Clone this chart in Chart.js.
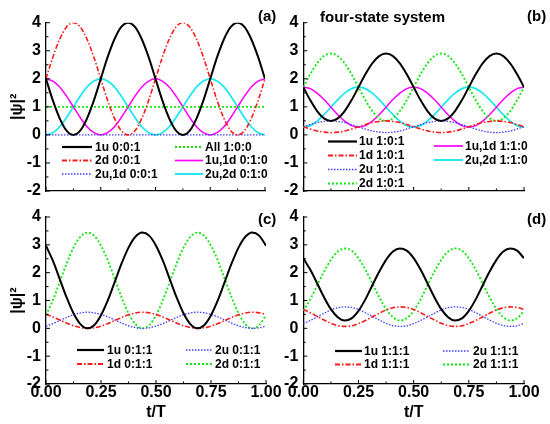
<!DOCTYPE html>
<html>
<head>
<meta charset="utf-8">
<script src="https://cdn.jsdelivr.net/npm/chart.js@4.4.9/dist/chart.umd.min.js"></script>
<style>
    body { margin: 0; width: 550px; height: 424px; background: #fff; position: relative; overflow: hidden; }
    canvas { position: absolute; left: 0; top: 0; }
    .tag { position: absolute; font: bold 15px "Liberation Sans", Arial, sans-serif; color: #000; line-height: 15px; }
</style>
</head>
<body>
<canvas id="panel-a" width="550" height="424"></canvas>
<canvas id="panel-b" width="550" height="424"></canvas>
<canvas id="panel-c" width="550" height="424"></canvas>
<canvas id="panel-d" width="550" height="424"></canvas>
<div class="tag" style="left:258px;top:8px">(a)</div>
<div class="tag" style="left:320px;top:9px">four-state system</div>
<div class="tag" style="left:527px;top:8px">(b)</div>
<div class="tag" style="left:258px;top:211px">(c)</div>
<div class="tag" style="left:527px;top:211px">(d)</div>
<script>
// time axis t/T, sampled every 1/32
const tValues = [0, 0.03125, 0.0625, 0.09375, 0.125, 0.15625, 0.1875, 0.21875, 0.25, 0.28125, 0.3125, 0.34375,
    0.375, 0.40625, 0.4375, 0.46875, 0.5, 0.53125, 0.5625, 0.59375, 0.625, 0.65625, 0.6875, 0.71875,
    0.75, 0.78125, 0.8125, 0.84375, 0.875, 0.90625, 0.9375, 0.96875, 1];

// (a)
const a1u = [2, 1.23, 0.59, 0.15, 0, 0.15, 0.59, 1.23, 2, 2.77, 3.41, 3.85, 4, 3.85, 3.41, 2.77,
    2, 1.23, 0.59, 0.15, 0, 0.15, 0.59, 1.23, 2, 2.77, 3.41, 3.85, 4, 3.85, 3.41, 2.77, 2];
const a2d = [2, 2.77, 3.41, 3.85, 4, 3.85, 3.41, 2.77, 2, 1.23, 0.59, 0.15, 0, 0.15, 0.59, 1.23,
    2, 2.77, 3.41, 3.85, 4, 3.85, 3.41, 2.77, 2, 1.23, 0.59, 0.15, 0, 0.15, 0.59, 1.23, 2];
const a2u1d = [0, 0, 0, 0, 0, 0, 0, 0, 0, 0, 0, 0, 0, 0, 0, 0, 0, 0, 0, 0, 0, 0, 0, 0, 0, 0, 0, 0, 0, 0, 0, 0, 0];
const aAll = [1, 1, 1, 1, 1, 1, 1, 1, 1, 1, 1, 1, 1, 1, 1, 1, 1, 1, 1, 1, 1, 1, 1, 1, 1, 1, 1, 1, 1, 1, 1, 1, 1];
const a1u1d = [2, 1.92, 1.71, 1.38, 1, 0.62, 0.29, 0.08, 0, 0.08, 0.29, 0.62, 1, 1.38, 1.71, 1.92,
    2, 1.92, 1.71, 1.38, 1, 0.62, 0.29, 0.08, 0, 0.08, 0.29, 0.62, 1, 1.38, 1.71, 1.92, 2];
const a2u2d = [0, 0.08, 0.29, 0.62, 1, 1.38, 1.71, 1.92, 2, 1.92, 1.71, 1.38, 1, 0.62, 0.29, 0.08,
    0, 0.08, 0.29, 0.62, 1, 1.38, 1.71, 1.92, 2, 1.92, 1.71, 1.38, 1, 0.62, 0.29, 0.08, 0];

// (b)
const b1u = [1.7, 1.24, 0.85, 0.59, 0.5, 0.59, 0.85, 1.24, 1.7, 2.16, 2.55, 2.81, 2.9, 2.81, 2.55, 2.16,
    1.7, 1.24, 0.85, 0.59, 0.5, 0.59, 0.85, 1.24, 1.7, 2.16, 2.55, 2.81, 2.9, 2.81, 2.55, 2.16, 1.7];
const b1d = [0.29, 0.21, 0.14, 0.10, 0.08, 0.10, 0.14, 0.21, 0.29, 0.37, 0.44, 0.48, 0.50, 0.48, 0.44, 0.37,
    0.29, 0.21, 0.14, 0.10, 0.08, 0.10, 0.14, 0.21, 0.29, 0.37, 0.44, 0.48, 0.50, 0.48, 0.44, 0.37, 0.29];
const b2u = [0.29, 0.37, 0.44, 0.48, 0.50, 0.48, 0.44, 0.37, 0.29, 0.21, 0.14, 0.10, 0.08, 0.10, 0.14, 0.21,
    0.29, 0.37, 0.44, 0.48, 0.50, 0.48, 0.44, 0.37, 0.29, 0.21, 0.14, 0.10, 0.08, 0.10, 0.14, 0.21, 0.29];
const b2d = [1.7, 2.16, 2.55, 2.81, 2.9, 2.81, 2.55, 2.16, 1.7, 1.24, 0.85, 0.59, 0.5, 0.59, 0.85, 1.24,
    1.7, 2.16, 2.55, 2.81, 2.9, 2.81, 2.55, 2.16, 1.7, 1.24, 0.85, 0.59, 0.5, 0.59, 0.85, 1.24, 1.7];
const b1u1d = [1.70, 1.65, 1.49, 1.26, 0.99, 0.72, 0.49, 0.33, 0.28, 0.33, 0.49, 0.72, 0.99, 1.26, 1.49, 1.65,
    1.70, 1.65, 1.49, 1.26, 0.99, 0.72, 0.49, 0.33, 0.28, 0.33, 0.49, 0.72, 0.99, 1.26, 1.49, 1.65, 1.70];
const b2u2d = [0.28, 0.33, 0.49, 0.72, 0.99, 1.26, 1.49, 1.65, 1.70, 1.65, 1.49, 1.26, 0.99, 0.72, 0.49, 0.33,
    0.28, 0.33, 0.49, 0.72, 0.99, 1.26, 1.49, 1.65, 1.70, 1.65, 1.49, 1.26, 0.99, 0.72, 0.49, 0.33, 0.28];

// (c)
const c1u = [2.97, 2.43, 1.77, 1.11, 0.54, 0.15, 0.00, 0.11, 0.47, 1.01, 1.67, 2.33, 2.90, 3.29, 3.44, 3.33,
    2.97, 2.43, 1.77, 1.11, 0.54, 0.15, 0.00, 0.11, 0.47, 1.01, 1.67, 2.33, 2.90, 3.29, 3.44, 3.33, 2.97];
const c1d = [0.50, 0.41, 0.30, 0.19, 0.09, 0.03, 0.00, 0.02, 0.08, 0.17, 0.28, 0.39, 0.49, 0.55, 0.58, 0.56,
    0.50, 0.41, 0.30, 0.19, 0.09, 0.03, 0.00, 0.02, 0.08, 0.17, 0.28, 0.39, 0.49, 0.55, 0.58, 0.56, 0.50];
const c2u = [0.08, 0.17, 0.28, 0.39, 0.49, 0.55, 0.58, 0.56, 0.50, 0.41, 0.30, 0.19, 0.09, 0.03, 0.00, 0.02,
    0.08, 0.17, 0.28, 0.39, 0.49, 0.55, 0.58, 0.56, 0.50, 0.41, 0.30, 0.19, 0.09, 0.03, 0.00, 0.02, 0.08];
const c2d = [0.47, 1.01, 1.67, 2.33, 2.90, 3.29, 3.44, 3.33, 2.97, 2.43, 1.77, 1.11, 0.54, 0.15, 0.00, 0.11,
    0.47, 1.01, 1.67, 2.33, 2.90, 3.29, 3.44, 3.33, 2.97, 2.43, 1.77, 1.11, 0.54, 0.15, 0.00, 0.11, 0.47];

// (d)
const d1u = [2.52, 2.11, 1.62, 1.12, 0.69, 0.40, 0.28, 0.36, 0.63, 1.04, 1.54, 2.03, 2.46, 2.76, 2.87, 2.79,
    2.52, 2.11, 1.62, 1.12, 0.69, 0.40, 0.28, 0.36, 0.63, 1.04, 1.54, 2.03, 2.46, 2.76, 2.87, 2.79, 2.52];
const d1d = [0.68, 0.56, 0.43, 0.30, 0.18, 0.10, 0.07, 0.09, 0.17, 0.28, 0.41, 0.54, 0.66, 0.74, 0.77, 0.75,
    0.68, 0.56, 0.43, 0.30, 0.18, 0.10, 0.07, 0.09, 0.17, 0.28, 0.41, 0.54, 0.66, 0.74, 0.77, 0.75, 0.68];
const d2u = [0.17, 0.28, 0.41, 0.54, 0.66, 0.74, 0.77, 0.75, 0.68, 0.56, 0.43, 0.30, 0.18, 0.10, 0.07, 0.09,
    0.17, 0.28, 0.41, 0.54, 0.66, 0.74, 0.77, 0.75, 0.68, 0.56, 0.43, 0.30, 0.18, 0.10, 0.07, 0.09, 0.17];
const d2d = [0.63, 1.04, 1.54, 2.03, 2.46, 2.76, 2.87, 2.79, 2.52, 2.11, 1.62, 1.12, 0.69, 0.40, 0.28, 0.36,
    0.63, 1.04, 1.54, 2.03, 2.46, 2.76, 2.87, 2.79, 2.52, 2.11, 1.62, 1.12, 0.69, 0.40, 0.28, 0.36, 0.63];

const xTicks = [0, 0.25, 0.5, 0.75, 1];
const yTicks = [-2, -1, 0, 1, 2, 3, 4];

const FONT = '"Liberation Sans", Arial, sans-serif';
Chart.defaults.font.family = FONT;
Chart.defaults.color = '#000';

const styles = {
    black:   { borderColor: '#000000', borderWidth: 2, borderDash: [] },
    red:     { borderColor: '#ff1a1a', borderWidth: 1.6, borderDash: [5, 2, 1.5, 2] },
    blue:    { borderColor: '#3d3dff', borderWidth: 1.3, borderDash: [1.5, 1.5] },
    green:   { borderColor: '#19e619', borderWidth: 1.9, borderDash: [2, 2] },
    magenta: { borderColor: '#ff00ff', borderWidth: 1.5, borderDash: [] },
    cyan:    { borderColor: '#1ae8f0', borderWidth: 1.7, borderDash: [] }
};

// small inward tick marks, major + minor
const innerTicks = {
    id: 'innerTicks',
    afterDatasetsDraw(chart) {
        const { ctx, scales: { x, y } } = chart;
        ctx.save();
        ctx.strokeStyle = '#000';
        ctx.lineWidth = 1;
        for (let i = 0; i <= 8; i++) {
            const px = x.getPixelForValue(i * 0.125);
            const len = i % 2 === 0 ? 4 : 2.5;
            ctx.beginPath();
            ctx.moveTo(px, y.bottom);
            ctx.lineTo(px, y.bottom - len);
            ctx.stroke();
        }
        for (let i = 0; i <= 12; i++) {
            const py = y.getPixelForValue(-2 + i * 0.5);
            const len = i % 2 === 0 ? 4 : 2.5;
            ctx.beginPath();
            ctx.moveTo(x.left, py);
            ctx.lineTo(x.left + len, py);
            ctx.stroke();
        }
        ctx.restore();
    }
};

// legend entries placed in slots inside the plot
const slotLegend = {
    id: 'slotLegend',
    afterDraw(chart, args, opts) {
        const ctx = chart.ctx;
        ctx.save();
        ctx.font = 'bold 12px ' + FONT;
        ctx.textBaseline = 'middle';
        ctx.textAlign = 'left';
        chart.data.datasets.forEach((ds, i) => {
            const [x0, x1, tx, ty] = opts.slots[i];
            ctx.strokeStyle = ds.borderColor;
            ctx.lineWidth = ds.borderWidth + 0.2;
            ctx.setLineDash(ds.borderDash);
            ctx.beginPath();
            ctx.moveTo(x0, ty);
            ctx.lineTo(x1, ty);
            ctx.stroke();
            ctx.setLineDash([]);
            ctx.fillStyle = '#000';
            ctx.fillText(ds.label, tx, ty + 0.5);
        });
        ctx.restore();
    }
};

const makePanel = (id, area, series, slots, showX, showYTitle) => {
    const ctx = document.getElementById(id).getContext('2d');
    const xHeight = 38;
    return new Chart(ctx, {
        type: 'line',
        data: {
            datasets: series.map(([label, values, style]) => ({
                label,
                data: tValues.map((t, i) => ({ x: t, y: values[i] })),
                ...styles[style],
                pointRadius: 0,
                fill: false,
                cubicInterpolationMode: 'monotone'
            }))
        },
        options: {
            responsive: false,
            animation: false,
            events: [],
            layout: {
                padding: {
                    left: area.left - 46,
                    top: area.top,
                    right: 550 - area.right,
                    bottom: 424 - area.bottom - xHeight
                }
            },
            scales: {
                x: {
                    type: 'linear',
                    min: 0,
                    max: 1,
                    afterFit: (s) => { s.height = xHeight; },
                    afterBuildTicks: (s) => { s.ticks = xTicks.map(v => ({ value: v })); },
                    grid: { display: false, drawTicks: false },
                    border: { display: true, color: '#000', width: 1.3 },
                    ticks: {
                        display: showX,
                        padding: 1,
                        maxRotation: 0,
                        font: { size: 16, weight: 'bold', lineHeight: 1 },
                        callback: v => v.toFixed(2)
                    },
                    title: {
                        display: showX,
                        text: 't/T',
                        font: { size: 16, weight: 'bold' },
                        padding: { top: 0, bottom: 0 }
                    }
                },
                y: {
                    min: -2,
                    max: 4,
                    afterFit: (s) => { s.width = 46; },
                    afterBuildTicks: (s) => { s.ticks = yTicks.map(v => ({ value: v })); },
                    grid: { display: false, drawTicks: false },
                    border: { display: true, color: '#000', width: 1.3 },
                    ticks: {
                        padding: 5,
                        font: { size: 16, weight: 'bold' },
                        callback: v => String(v)
                    },
                    title: {
                        display: showYTitle,
                        text: '|ψ|²',
                        font: { size: 16, weight: 'bold' },
                        padding: { top: 8, bottom: 0 }
                    }
                }
            },
            plugins: {
                legend: { display: false },
                tooltip: { enabled: false },
                slotLegend: { slots }
            }
        },
        plugins: [innerTicks, slotLegend]
    });
};

makePanel('panel-a', { left: 46, top: 22.7, right: 265, bottom: 191 }, [
    ['1u 0:0:1', a1u, 'black'],
    ['2d 0:0:1', a2d, 'red'],
    ['2u,1d 0:0:1', a2u1d, 'blue'],
    ['All 1:0:0', aAll, 'green'],
    ['1u,1d 0:1:0', a1u1d, 'magenta'],
    ['2u,2d 0:1:0', a2u2d, 'cyan']
], [
    [62, 92, 95, 147], [62, 92, 95, 160.5], [62, 92, 95, 174],
    [175, 203, 205, 147], [175, 203, 205, 160.5], [175, 203, 205, 174]
], false, true);

makePanel('panel-b', { left: 303.3, top: 22.7, right: 524, bottom: 191 }, [
    ['1u 1:0:1', b1u, 'black'],
    ['1d 1:0:1', b1d, 'red'],
    ['2u 1:0:1', b2u, 'blue'],
    ['2d 1:0:1', b2d, 'green'],
    ['1u,1d 1:1:0', b1u1d, 'magenta'],
    ['2u,2d 1:1:0', b2u2d, 'cyan']
], [
    [328, 357, 359, 141.5], [328, 357, 359, 155.5], [328, 357, 359, 169.5], [328, 357, 359, 183.5],
    [434, 463, 465, 146], [434, 463, 465, 160]
], false, false);

makePanel('panel-c', { left: 46, top: 217, right: 266, bottom: 384 }, [
    ['1u 0:1:1', c1u, 'black'],
    ['1d 0:1:1', c1d, 'red'],
    ['2u 0:1:1', c2u, 'blue'],
    ['2d 0:1:1', c2d, 'green']
], [
    [77, 104, 107, 350], [77, 104, 107, 364],
    [186, 213, 215, 350], [186, 213, 215, 364]
], true, true);

makePanel('panel-d', { left: 303.3, top: 217, right: 524, bottom: 384 }, [
    ['1u 1:1:1', d1u, 'black'],
    ['1d 1:1:1', d1d, 'red'],
    ['2u 1:1:1', d2u, 'blue'],
    ['2d 1:1:1', d2d, 'green']
], [
    [335, 362, 364, 351], [335, 362, 364, 364.5],
    [443, 470, 473, 351], [443, 470, 473, 364.5]
], true, false);
</script>
</body>
</html>
